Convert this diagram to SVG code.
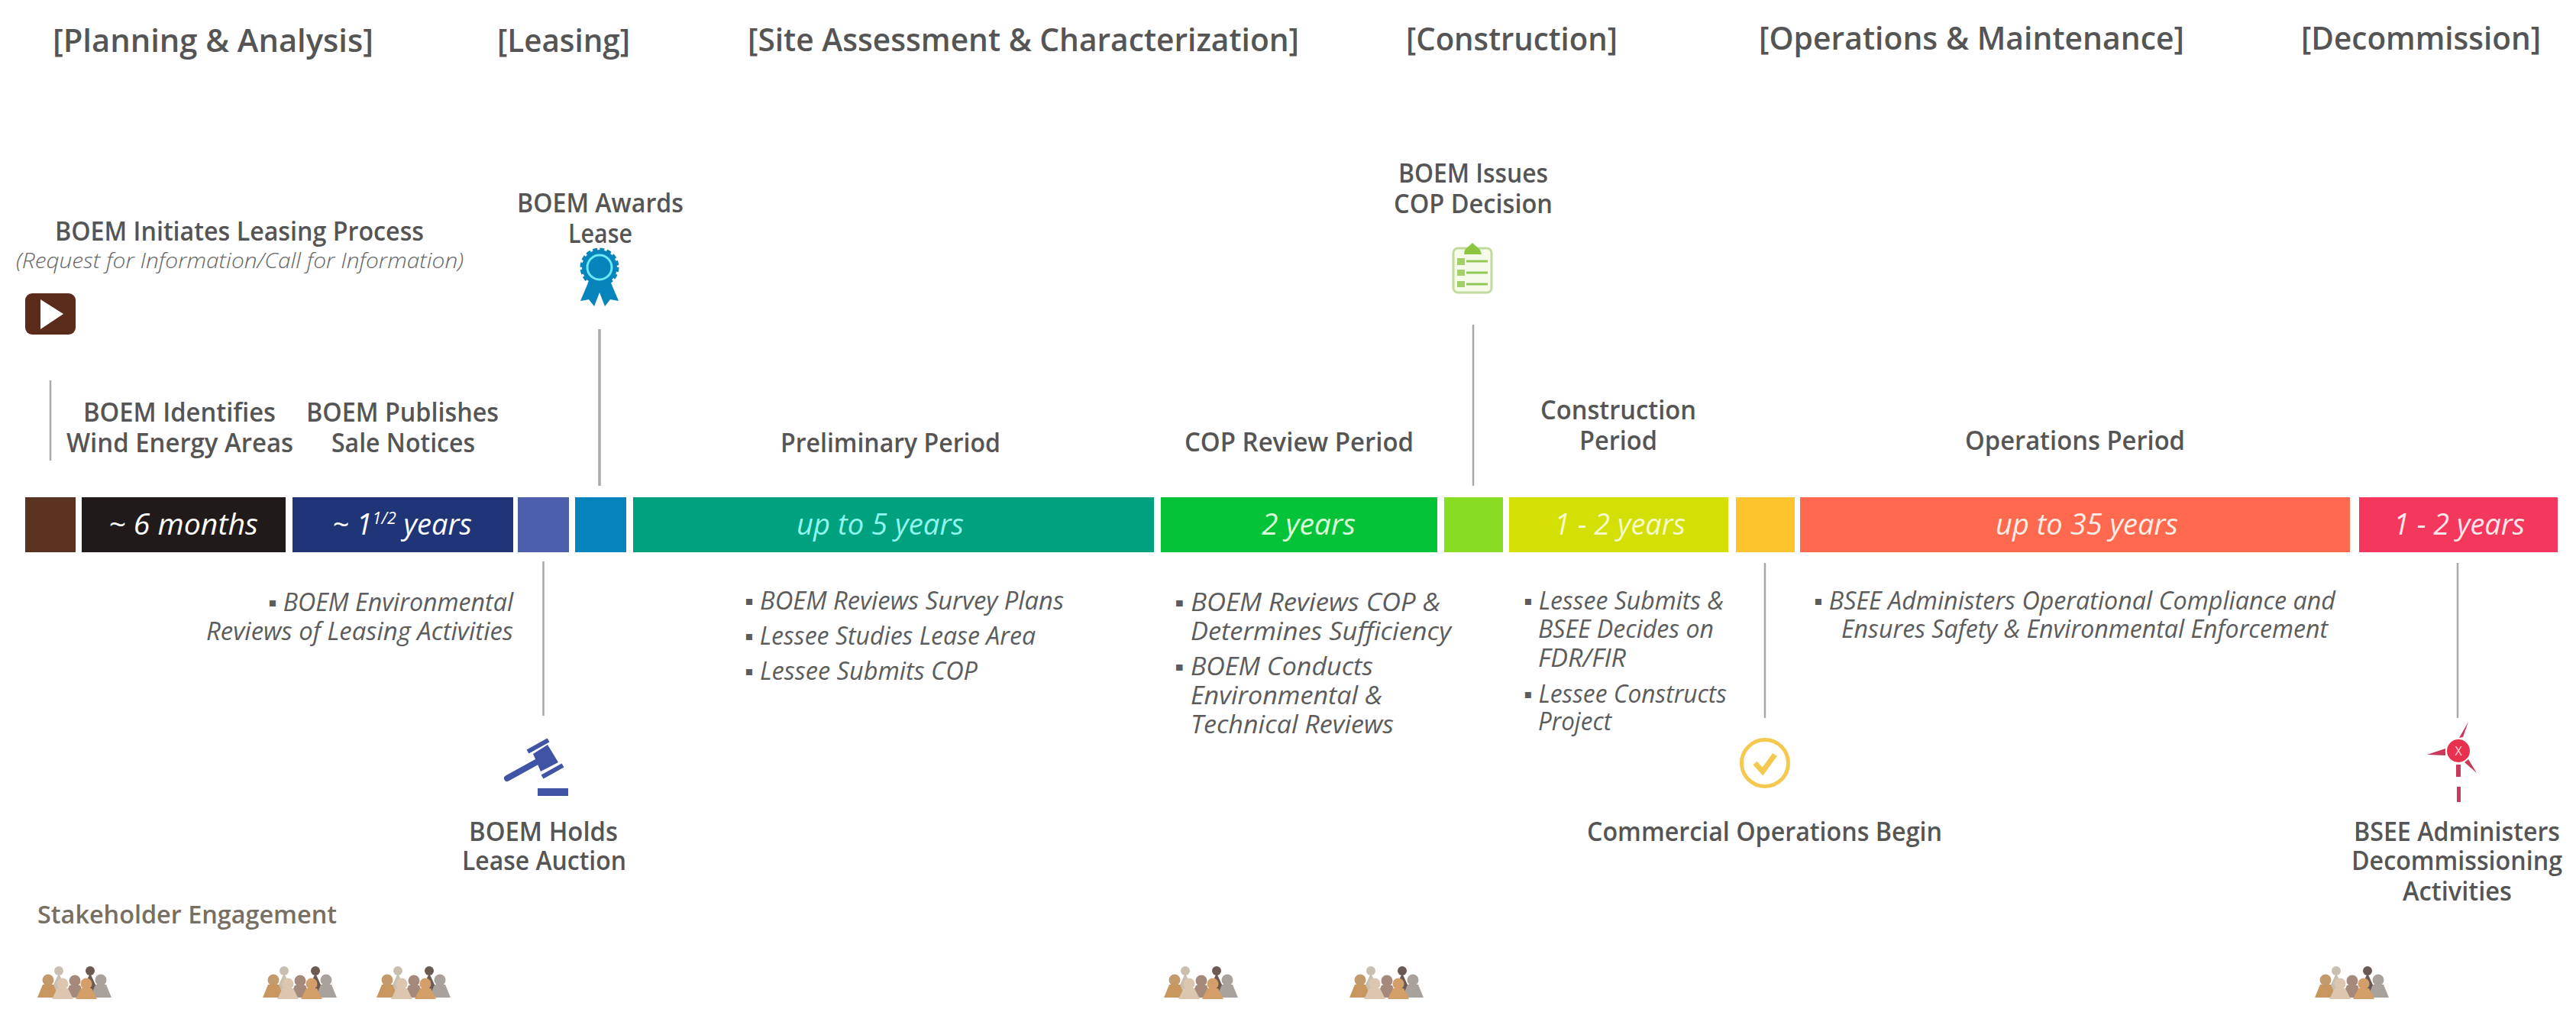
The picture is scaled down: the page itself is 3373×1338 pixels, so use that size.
<svg xmlns="http://www.w3.org/2000/svg" xmlns:xlink="http://www.w3.org/1999/xlink" width="3373" height="1338" viewBox="0 0 3373 1338">
<style>
text{font-family:"Open Sans","Liberation Sans",sans-serif}
.h{font-size:42px;font-weight:600;fill:#555}
.l{font-size:34px;font-weight:600;fill:#555}
.i{font-size:32px;font-style:italic;fill:#5c5c5c}
.r{font-size:28px;font-style:italic;font-weight:300;fill:#666}
.b{font-size:39px;font-style:italic}
.s{font-size:33px;font-weight:600;fill:#786e62}
.c{stroke:#a9a9a9;stroke-width:2.5;fill:none}
</style>
<defs>
<g id="crowd">
<circle cx="28" cy="6" r="6" fill="#c9bfb0"/><path d="M28 9l-11 24h22z" fill="#c9bfb0"/>
<circle cx="69" cy="6" r="6" fill="#6a5a52"/><path d="M69 9l-11 24h22z" fill="#6a5a52"/>
<circle cx="14" cy="18" r="7.500" fill="#c29a6c"/><path d="M7 24L0 41h28l-7-17z" fill="#c8975f"/>
<circle cx="49" cy="19" r="7.500" fill="#a58a7c"/><path d="M42 25l-7 16h28l-7-16z" fill="#a58a7c"/>
<circle cx="83" cy="18" r="7.500" fill="#a9a19b"/><path d="M76 24l-7 17h28l-7-17z" fill="#a9a19b"/>
<circle cx="33" cy="23" r="7.500" fill="#dcc6af"/><path d="M26 29l-7 14h28l-7-14z" fill="#dcc6af"/>
<circle cx="64" cy="23" r="7.500" fill="#d49e68"/><path d="M57 29l-7 14h28l-7-14z" fill="#d49e68"/>
</g>
</defs>
<rect width="3373" height="1338" fill="#fff"/>
<g id="phases">
<text class="h" x="69" y="68" textLength="420" lengthAdjust="spacingAndGlyphs">[Planning &amp; Analysis]</text>
<text class="h" x="651" y="68" textLength="174" lengthAdjust="spacingAndGlyphs">[Leasing]</text>
<text class="h" x="979" y="67" textLength="722" lengthAdjust="spacingAndGlyphs">[Site Assessment &amp; Characterization]</text>
<text class="h" x="1841" y="66" textLength="277" lengthAdjust="spacingAndGlyphs">[Construction]</text>
<text class="h" x="2303" y="65" textLength="557" lengthAdjust="spacingAndGlyphs">[Operations &amp; Maintenance]</text>
<text class="h" x="3013" y="65" textLength="314" lengthAdjust="spacingAndGlyphs">[Decommission]</text>
</g>
<g id="connectors">
<line class="c" x1="66" y1="498" x2="66" y2="603"/>
<line class="c" x1="785" y1="431" x2="785" y2="636" style="stroke-width:3.500"/>
<line class="c" x1="1929" y1="425" x2="1929" y2="636"/>
<line class="c" x1="711.500" y1="735" x2="711.500" y2="937"/>
<line class="c" x1="2311" y1="737" x2="2311" y2="940"/>
<line class="c" x1="3218" y1="737" x2="3218" y2="940"/>
</g>
<g id="bar-brown"><rect x="33" y="651" width="66" height="72" fill="#5b3120"/></g>
<g id="bar-6months"><rect x="107" y="651" width="267" height="72" fill="#211a1b"/><text class="b" x="142" y="700" fill="#fff" textLength="196" lengthAdjust="spacingAndGlyphs">~ 6 months</text></g>
<g id="bar-1half"><rect x="383" y="651" width="289" height="72" fill="#1f3577"/><text class="b" x="435" y="700" fill="#fff" textLength="183" lengthAdjust="spacingAndGlyphs">~ 1<tspan font-size="22" dy="-14">1/2</tspan><tspan dy="14"> years</tspan></text></g>
<g id="bar-auction"><rect x="678" y="651" width="67" height="72" fill="#4b5fad"/></g>
<g id="bar-award"><rect x="753" y="651" width="67" height="72" fill="#0684bb"/></g>
<g id="bar-prelim"><rect x="829" y="651" width="682" height="72" fill="#00a17e"/><text class="b" x="1043" y="700" fill="#8ff5ee" textLength="219" lengthAdjust="spacingAndGlyphs">up to 5 years</text></g>
<g id="bar-cop"><rect x="1520" y="651" width="362" height="72" fill="#05c338"/><text class="b" x="1652" y="700" fill="#d9ffd9" textLength="123" lengthAdjust="spacingAndGlyphs">2 years</text></g>
<g id="bar-decision"><rect x="1891" y="651" width="77" height="72" fill="#86dd22"/></g>
<g id="bar-construction"><rect x="1976" y="651" width="287" height="72" fill="#d3df05"/><text class="b" x="2035" y="700" fill="#f7f9c8" textLength="172" lengthAdjust="spacingAndGlyphs">1 - 2 years</text></g>
<g id="bar-cod"><rect x="2273" y="651" width="77" height="72" fill="#fec42d"/></g>
<g id="bar-operations"><rect x="2357" y="651" width="720" height="72" fill="#ff694f"/><text class="b" x="2613" y="700" fill="#ffeee6" textLength="239" lengthAdjust="spacingAndGlyphs">up to 35 years</text></g>
<g id="bar-decommission"><rect x="3089" y="651" width="260" height="72" fill="#f4375c"/><text class="b" x="3134" y="700" fill="#ffe6ea" textLength="172" lengthAdjust="spacingAndGlyphs">1 - 2 years</text></g>
<g id="node-initiates">
<text class="l" x="72" y="315" textLength="483" lengthAdjust="spacingAndGlyphs">BOEM Initiates Leasing Process</text>
<text class="r" x="21" y="351" textLength="586" lengthAdjust="spacingAndGlyphs">(Request for Information/Call for Information)</text>
<rect x="33" y="384" width="66" height="54" rx="9" fill="#5b2c1b"/><path d="M53 392L83 411L53 431z" fill="#fff"/>
</g>
<g id="node-award">
<text class="l" x="677" y="278" textLength="218" lengthAdjust="spacingAndGlyphs">BOEM Awards</text>
<text class="l" x="744" y="318" textLength="84" lengthAdjust="spacingAndGlyphs">Lease</text>
<path d="M771 368L760 394l11-2 7 9 7-18 7 18 7-9 11 2-11-26z" fill="#0684bb"/>
<circle cx="785" cy="350" r="23" fill="#0684bb"/><circle cx="785" cy="350" r="23.500" fill="none" stroke="#0684bb" stroke-width="4" stroke-dasharray="6 3.200"/>
<circle cx="785" cy="350" r="16" fill="#0684bb" stroke="#6ce9f5" stroke-width="3"/>
</g>
<g id="node-wea">
<text class="l" x="109" y="552" textLength="252" lengthAdjust="spacingAndGlyphs">BOEM Identifies</text>
<text class="l" x="87" y="592" textLength="297" lengthAdjust="spacingAndGlyphs">Wind Energy Areas</text>
</g>
<g id="node-sale">
<text class="l" x="401" y="552" textLength="252" lengthAdjust="spacingAndGlyphs">BOEM Publishes</text>
<text class="l" x="434" y="592" textLength="188" lengthAdjust="spacingAndGlyphs">Sale Notices</text>
</g>
<g id="node-prelim-label"><text class="l" x="1022" y="592" textLength="288" lengthAdjust="spacingAndGlyphs">Preliminary Period</text></g>
<g id="node-cop-label"><text class="l" x="1551" y="591" textLength="300" lengthAdjust="spacingAndGlyphs">COP Review Period</text></g>
<g id="node-decision">
<text class="l" x="1831" y="239" textLength="196" lengthAdjust="spacingAndGlyphs">BOEM Issues</text>
<text class="l" x="1825" y="279" textLength="208" lengthAdjust="spacingAndGlyphs">COP Decision</text>
<rect x="1903" y="325" width="50" height="58" rx="6" fill="#f5fbe8" stroke="#c3da9e" stroke-width="3"/>
<path d="M1917 333h23l-2-6-10-9-10 9z" fill="#8cc63f"/>
<path d="M1908 338h10v9h-10zM1908 353h10v8h-10zM1908 368h10v8h-10z" fill="#a3cf68"/>
<path d="M1920 342h28M1920 357h28M1920 372h28" stroke="#93c857" stroke-width="3"/>
</g>
<g id="node-construction-label">
<text class="l" x="2017" y="549" textLength="204" lengthAdjust="spacingAndGlyphs">Construction</text>
<text class="l" x="2068" y="589" textLength="102" lengthAdjust="spacingAndGlyphs">Period</text>
</g>
<g id="node-operations-label"><text class="l" x="2573" y="589" textLength="288" lengthAdjust="spacingAndGlyphs">Operations Period</text></g>
<g id="notes-leasing">
<text class="i" x="351" y="800" textLength="321" lengthAdjust="spacingAndGlyphs">▪ BOEM Environmental</text>
<text class="i" x="270" y="838" textLength="402" lengthAdjust="spacingAndGlyphs">Reviews of Leasing Activities</text>
</g>
<g id="notes-prelim">
<text class="i" x="975" y="798" textLength="418" lengthAdjust="spacingAndGlyphs">▪ BOEM Reviews Survey Plans</text>
<text class="i" x="975" y="844" textLength="381" lengthAdjust="spacingAndGlyphs">▪ Lessee Studies Lease Area</text>
<text class="i" x="975" y="890" textLength="305" lengthAdjust="spacingAndGlyphs">▪ Lessee Submits COP</text>
</g>
<g id="notes-cop">
<text class="i" x="1538" y="800" textLength="348" lengthAdjust="spacingAndGlyphs">▪ BOEM Reviews COP &amp;</text>
<text class="i" x="1559" y="838" textLength="341" lengthAdjust="spacingAndGlyphs">Determines Sufficiency</text>
<text class="i" x="1538" y="884" textLength="260" lengthAdjust="spacingAndGlyphs">▪ BOEM Conducts</text>
<text class="i" x="1559" y="922" textLength="251" lengthAdjust="spacingAndGlyphs">Environmental &amp;</text>
<text class="i" x="1559" y="960" textLength="266" lengthAdjust="spacingAndGlyphs">Technical Reviews</text>
</g>
<g id="notes-construction">
<text class="i" x="1995" y="798" textLength="262" lengthAdjust="spacingAndGlyphs">▪ Lessee Submits &amp;</text>
<text class="i" x="2014" y="835" textLength="230" lengthAdjust="spacingAndGlyphs">BSEE Decides on</text>
<text class="i" x="2014" y="873" textLength="115" lengthAdjust="spacingAndGlyphs">FDR/FIR</text>
<text class="i" x="1995" y="920" textLength="266" lengthAdjust="spacingAndGlyphs">▪ Lessee Constructs</text>
<text class="i" x="2014" y="956" textLength="96" lengthAdjust="spacingAndGlyphs">Project</text>
</g>
<g id="notes-operations">
<text class="i" x="2375" y="798" textLength="683" lengthAdjust="spacingAndGlyphs">▪ BSEE Administers Operational Compliance and</text>
<text class="i" x="2411" y="835" textLength="637" lengthAdjust="spacingAndGlyphs">Ensures Safety &amp; Environmental Enforcement</text>
</g>
<g id="node-auction">
<path d="M664 1019L702 998" stroke="#3f54a5" stroke-width="8" stroke-linecap="round"/>
<path d="M698 987L717 975L731 998L708 1010z" fill="#3f54a5"/>
<path d="M691 984L718 969M710 1017L737 1002" stroke="#3f54a5" stroke-width="6"/>
<rect x="704" y="1032" width="40" height="10" fill="#3f54a5"/>
<text class="l" x="614" y="1101" textLength="195" lengthAdjust="spacingAndGlyphs">BOEM Holds</text>
<text class="l" x="605" y="1139" textLength="215" lengthAdjust="spacingAndGlyphs">Lease Auction</text>
</g>
<g id="node-commercial">
<circle cx="2311" cy="999" r="30.500" fill="#fff" stroke="#f5c94f" stroke-width="5"/>
<path d="M2298 999l10 11 16-22" fill="none" stroke="#f5c94f" stroke-width="7"/>
<text class="l" x="2078" y="1101" textLength="465" lengthAdjust="spacingAndGlyphs">Commercial Operations Begin</text>
</g>
<g id="node-decommission">
<circle cx="3219" cy="983" r="15" fill="#e8304f"/>
<path d="M3220 966l5-1 7-20zM3202 980v9l-24-1zM3227 998l5-4 11 18zM3216 1001h6v16h-6zM3217 1030h5v20h-5z" fill="#c93a5a"/>
<text x="3219" y="989" font-size="16" fill="#ffd0da" text-anchor="middle">X</text>
<text class="l" x="3082" y="1101" textLength="270" lengthAdjust="spacingAndGlyphs">BSEE Administers</text>
<text class="l" x="3079" y="1139" textLength="276" lengthAdjust="spacingAndGlyphs">Decommissioning</text>
<text class="l" x="3146" y="1179" textLength="143" lengthAdjust="spacingAndGlyphs">Activities</text>
</g>
<g id="stakeholders">
<text class="s" x="49" y="1209" textLength="392" lengthAdjust="spacingAndGlyphs">Stakeholder Engagement</text>
<use href="#crowd" x="49" y="1265"/>
<use href="#crowd" x="344" y="1265"/>
<use href="#crowd" x="493" y="1265"/>
<use href="#crowd" x="1524" y="1265"/>
<use href="#crowd" x="1767" y="1265"/>
<use href="#crowd" x="3031" y="1265"/>
</g>
</svg>
